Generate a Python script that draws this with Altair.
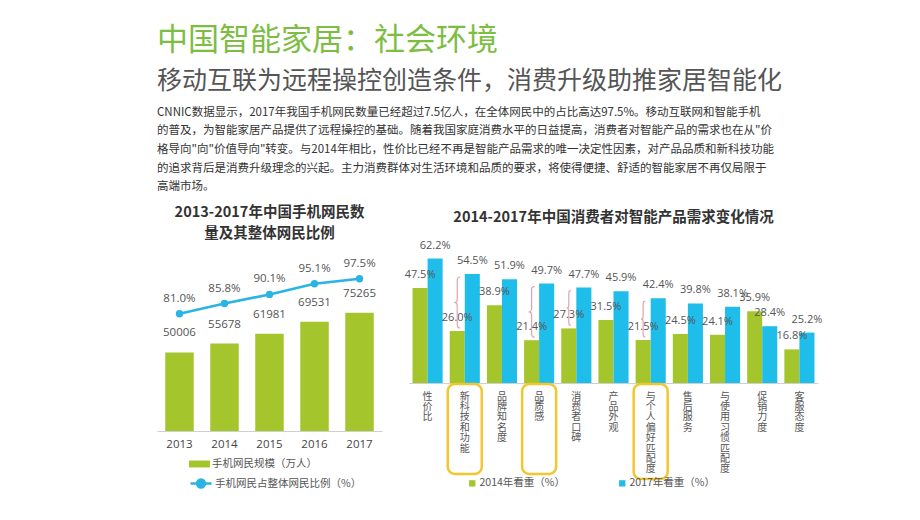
import altair as alt
import pandas as pd

# ---------------- texts ----------------
main_title = "中国智能家居：社会环境"
sub_title = "移动互联为远程操控创造条件，消费升级助推家居智能化"
paragraph = [
    "CNNIC数据显示，2017年我国手机网民数量已经超过7.5亿人，在全体网民中的占比高达97.5%。移动互联网和智能手机",
    "的普及，为智能家居产品提供了远程操控的基础。随着我国家庭消费水平的日益提高，消费者对智能产品的需求也在从\"价",
    "格导向\"向\"价值导向\"转变。与2014年相比，性价比已经不再是智能产品需求的唯一决定性因素，对产品品质和新科技功能",
    "的追求背后是消费升级理念的兴起。主力消费群体对生活环境和品质的要求，将使得便捷、舒适的智能家居不再仅局限于",
    "高端市场。",
]
left_title = ["2013-2017年中国手机网民数", "量及其整体网民比例"]
right_title = "2014-2017年中国消费者对智能产品需求变化情况"

# ---------------- left chart data ----------------
years = ["2013", "2014", "2015", "2016", "2017"]
users = [50006, 55678, 61981, 69531, 75265]
ratio = [81.0, 85.8, 90.1, 95.1, 97.5]
bar_leg = "手机网民规模（万人）"
line_leg = "手机网民占整体网民比例（%）"

# ---------------- right chart data ----------------
cats = ["性价比", "新科技和功能", "品牌知名度", "品质感", "消费者口碑", "产品外观",
        "与个人偏好匹配度", "售后服务", "与使用习惯匹配度", "促销力度", "客服态度"]
v2014 = [47.5, 26.0, 38.9, 21.4, 27.3, 31.5, 21.5, 24.5, 24.1, 35.9, 16.8]
v2017 = [62.2, 54.5, 51.9, 49.7, 47.7, 45.9, 42.4, 39.8, 38.1, 28.4, 25.2]
s14 = "2014年看重（%）"
s17 = "2017年看重（%）"
brace_cats = ["新科技和功能", "品质感", "消费者口碑", "与个人偏好匹配度"]
box_cats_a = ["新科技和功能", "品质感"]
box_cats_b = ["与个人偏好匹配度"]

# ---------------- styles ----------------
GREEN = "#a4c62c"
BLUE = "#1fbdea"
LINEC = "#2ab4e4"
TGREEN = "#7cbd42"
PINK = "#e3a2ad"
YEL = "#f3c52e"
CJK = "Noto Sans CJK SC"
NUM = "Open Sans, Noto Sans CJK SC"

# ================= LEFT =================
left_df = pd.DataFrame({"year": years, "users": users, "ratio": ratio})
LW, LH = 225, 198
xL = alt.X("year:O", title=None,
           scale=alt.Scale(paddingInner=0.367, paddingOuter=0.183),
           axis=alt.Axis(labelAngle=0, ticks=False, domainColor="#cfcfcf",
                         labelFont=NUM, labelFontSize=11.5, labelColor="#444",
                         labelPadding=7))
yBar = alt.Scale(domain=[0, 126100])
yLine = alt.Scale(domain=[25.67, 119.07])

baseL = alt.Chart(left_df)
barsL = baseL.transform_calculate(s=f"'{bar_leg}'").mark_bar().encode(
    x=xL,
    y=alt.Y("users:Q", scale=yBar, axis=None),
    fill=alt.Fill("s:N", scale=alt.Scale(domain=[bar_leg], range=[GREEN]),
                  legend=alt.Legend(orient="none", legendX=32, legendY=220.5, title=None,
                                    symbolType="M-1,-0.33H1V0.33H-1Z", symbolSize=441,
                                    symbolStrokeWidth=0, labelFont=CJK, labelFontSize=10.5,
                                    labelColor="#555", labelOffset=2)),
)
barTxt = baseL.mark_text(dy=-19, font=NUM, fontSize=11.5, color="#555").encode(
    x=xL, y=alt.Y("users:Q", scale=yBar, axis=None), text=alt.Text("users:Q", format="d"))
lineL = baseL.transform_calculate(s2=f"'{line_leg}'").mark_line(strokeWidth=2.6).encode(
    x=xL,
    y=alt.Y("ratio:Q", scale=yLine, axis=None),
    stroke=alt.Stroke("s2:N", scale=alt.Scale(domain=[line_leg], range=[LINEC]),
                      legend=alt.Legend(orient="none", legendX=32, legendY=238.5, title=None,
                                        symbolType="M-1,0H1M-0.38,0A0.38,0.38,0,1,0,0.38,0A0.38,0.38,0,1,0,-0.38,0Z",
                                        symbolSize=441, symbolStrokeWidth=2.4,
                                        symbolFillColor=LINEC, labelFont=CJK,
                                        labelFontSize=10.5, labelColor="#555", labelOffset=2)),
)
ptsL = baseL.mark_point(filled=True, size=55, color=LINEC, opacity=1).encode(
    x=xL, y=alt.Y("ratio:Q", scale=yLine, axis=None))
lineTxt = baseL.transform_calculate(lbl="format(datum.ratio, '.1f') + '%'").mark_text(
    dy=-15, font=NUM, fontSize=11.5, color="#555").encode(
    x=xL, y=alt.Y("ratio:Q", scale=yLine, axis=None), text="lbl:N")

left = alt.layer(barsL, barTxt, lineL, ptsL, lineTxt).resolve_scale(y="independent").properties(
    width=LW, height=LH,
    title=alt.TitleParams(left_title, font=CJK, fontSize=14.5, fontWeight="bold", color="#333",
                          anchor="middle", frame="group", baseline="bottom", lineHeight=21.7,
                          offset=-23),
)

# ================= RIGHT =================
rows = []
for c, a, b in zip(cats, v2014, v2017):
    rows.append({"cat": c, "series": s14, "value": a})
    rows.append({"cat": c, "series": s17, "value": b})
right_df = pd.DataFrame(rows)
brace_df = pd.DataFrame({
    "cat": brace_cats,
    "series": [s14] * len(brace_cats),
    "lo": [v2014[cats.index(c)] for c in brace_cats],
    "hi": [v2017[cats.index(c)] for c in brace_cats],
})
box_a = pd.DataFrame({"cat": box_cats_a})
box_b = pd.DataFrame({"cat": box_cats_b})

RW, RH = 409, 150
xR = alt.X("cat:N", sort=cats, title=None,
           scale=alt.Scale(paddingInner=0.19, paddingOuter=0.095),
           axis=alt.Axis(labelAngle=0, ticks=False, domainColor="#cfcfcf",
                         labelExpr="split(datum.label, '')", labelFont=CJK,
                         labelFontSize=10, labelLineHeight=10.4, labelColor="#555",
                         labelPadding=8, labelBaseline="top"))
xOff = alt.XOffset("series:N", sort=[s14, s17],
                   scale=alt.Scale(domain=[s14, s17], paddingInner=0, paddingOuter=0))
yR = alt.Scale(domain=[0, 75])

barsR = alt.Chart(right_df).mark_bar().encode(
    x=xR, xOffset=xOff,
    y=alt.Y("value:Q", scale=yR, axis=None),
    color=alt.Color("series:N", scale=alt.Scale(domain=[s14, s17], range=[GREEN, BLUE]),
                    legend=alt.Legend(orient="none", direction="horizontal", legendX=310,
                                      legendY=245, title=None, symbolType="square",
                                      symbolSize=40, symbolStrokeWidth=0, columnPadding=52,
                                      labelFont=CJK, labelFontSize=10.5, labelColor="#555",
                                      labelOffset=2)),
)
txtR = alt.Chart(right_df).transform_calculate(
    lbl="format(datum.value, '.1f') + '%'").mark_text(
    dy=-13, font=NUM, fontSize=11, color="#555").encode(
    x=xR, xOffset=xOff, y=alt.Y("value:Q", scale=yR, axis=None), text="lbl:N")

BRACE = ("M0.12,-1C0.02,-1,0,-0.96,0,-0.86L0,-0.14C0,-0.04,-0.04,0,-0.12,0"
         "C-0.04,0,0,0.04,0,0.14L0,0.86C0,0.96,0.02,1,0.12,1")
braces = alt.Chart(brace_df).transform_calculate(
    mid="(datum.lo + datum.hi) / 2",
    sz="pow(2 * (datum.hi - datum.lo) - 6, 2)",
).mark_point(shape=BRACE, filled=False, stroke=PINK, strokeWidth=1.2, opacity=1, dx=1.5, dy=-2).encode(
    x=xR, xOffset=xOff, y=alt.Y("mid:Q", scale=yR, axis=None),
    size=alt.Size("sz:Q", scale=None, legend=None))

boxA = alt.Chart(box_a).mark_bar(fill="white", fillOpacity=0, stroke=YEL, strokeWidth=2.5,
                                 cornerRadius=7, width=34).encode(
    x=xR, y=alt.value(151), y2=alt.value(241))
boxB = alt.Chart(box_b).mark_bar(fill="white", fillOpacity=0, stroke=YEL, strokeWidth=2.5,
                                 cornerRadius=7, width=34).encode(
    x=xR, y=alt.value(151), y2=alt.value(246))

right = alt.layer(barsR, txtR, braces, boxA, boxB).properties(
    width=RW, height=RH,
    title=alt.TitleParams(right_title, font=CJK, fontSize=14.5, fontWeight="bold", color="#333",
                          anchor="middle", frame="group", baseline="bottom", offset=-6),
)

inner = alt.hconcat(left, right, spacing=27).properties(
    bounds="flush",
    title=alt.TitleParams(paragraph, font=CJK, fontSize=11.5, fontWeight="normal", color="#333",
                          anchor="start", baseline="bottom", lineHeight=18.6, offset=1),
)

chart = alt.vconcat(inner).properties(
    title=alt.TitleParams(main_title, subtitle=sub_title, font=CJK, fontSize=31,
                          fontWeight="normal", color=TGREEN, subtitleFont=CJK,
                          subtitleFontSize=25, subtitleColor="#555", subtitlePadding=12,
                          anchor="start", offset=12),
    padding={"left": 149, "top": 16, "right": 5, "bottom": 5},
).configure(font=CJK, background="white").configure_view(stroke=None)

chart.save("out.html", embed_options={"renderer": "svg", "actions": False})
